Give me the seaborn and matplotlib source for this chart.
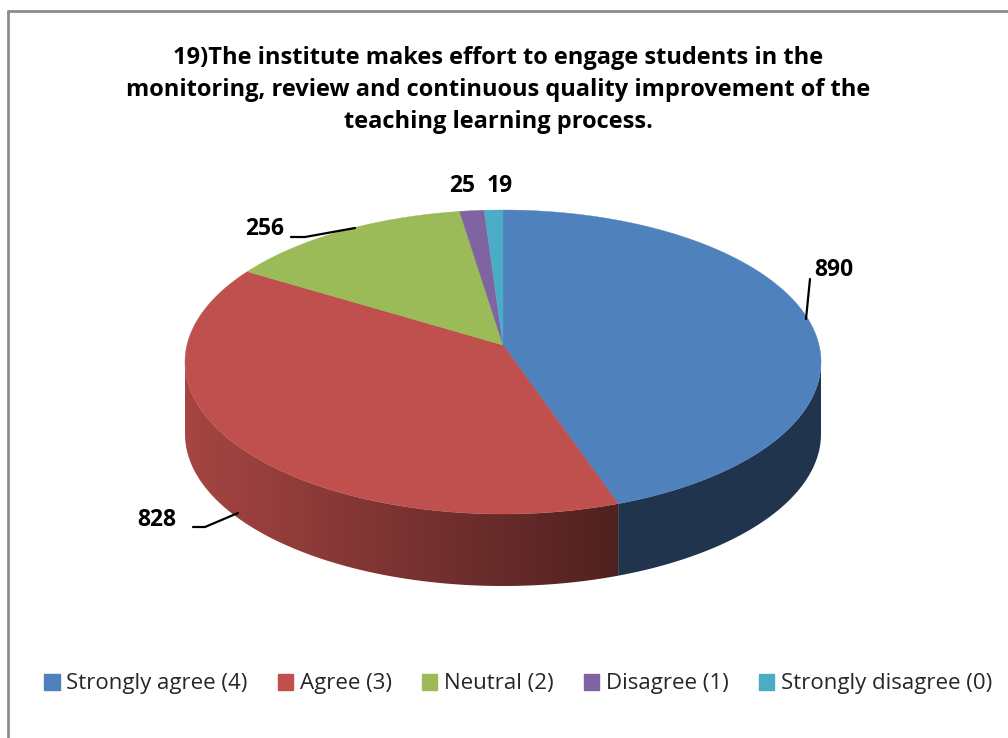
import numpy as np
import matplotlib
matplotlib.use("Agg")
import matplotlib.pyplot as plt
from matplotlib.patches import Polygon, Patch
import seaborn as sns

# data
labels = ["Strongly agree (4)", "Agree (3)", "Neutral (2)", "Disagree (1)", "Strongly disagree (0)"]
counts = [890, 828, 256, 25, 19]
colors = ["#4F81BD", "#C0504D", "#9BBB59", "#8064A2", "#4BACC6"]
title = ("19)The institute makes effort to engage students in the\n"
         "monitoring, review and continuous quality improvement of the\n"
         "teaching learning process.")

# layout (pixels): where the value labels sit and their leader lines
label_pos = [(834, 270), (157, 520), (265, 229), (462, 186), (500, 186)]
leaders = [[(810, 279), (806, 319)],
           [(193, 527), (205, 527), (238, 513)],
           [(291, 237), (305, 237), (355, 228)],
           None, None]

sns.set_theme(style="white")
plt.rcParams['font.family'] = ['Open Sans', 'DejaVu Sans']

fig = plt.figure(figsize=(10.08, 7.38), dpi=100)
ax = fig.add_axes([0, 0, 1, 1])

# pie geometry (ellipse seen in perspective)
cx, cy, rx, ry, depth = 503, 362, 318, 152, 72
apex = (503, 345)


def pt(t, dy=0.0):
    r = np.radians(t)
    return cx + rx * np.cos(r), cy - ry * np.sin(r) + dy


total = sum(counts)
ends = 90 - np.cumsum(counts) / total * 360
starts = np.r_[90, ends[:-1]]

# side walls (front half only), filled with a left-to-right gradient
xg = np.arange(0, 1008)
fac = np.clip(0.86 - 0.00105 * (xg - 190), 0.41, 1.0)
for i in range(len(counts)):
    ts = np.linspace(ends[i], starts[i], 400)
    front = ts[np.sin(np.radians(ts)) <= 0]
    if len(front) < 2:
        continue
    top = [pt(t) for t in front]
    bot = [pt(t, depth) for t in front[::-1]]
    poly = Polygon(top + bot, closed=True, facecolor='none', edgecolor='none')
    ax.add_patch(poly)
    rgb = np.array(matplotlib.colors.to_rgb(colors[i]))
    img = np.tile((fac[:, None] * rgb)[None, :, :], (2, 1, 1))
    im = ax.imshow(img, extent=(0, 1008, 738, 0), aspect='auto', interpolation='bilinear')
    im.set_clip_path(poly)

# top face wedges
for i in range(len(counts)):
    ts = np.linspace(starts[i], ends[i], 200)
    arc = [pt(t) for t in ts]
    ax.add_patch(Polygon([apex] + arc, closed=True, facecolor=colors[i],
                         edgecolor=colors[i], lw=0.3))

# value labels + leader lines
for i, v in enumerate(counts):
    x, y = label_pos[i]
    ax.text(x, y, str(v), fontsize=16.5, fontweight='bold', ha='center', va='center',
            color='black')
    if leaders[i] is not None:
        xs, ys = zip(*leaders[i])
        ax.plot(xs, ys, color='black', lw=1.6)

# title
ax.text(498, 90, title, fontsize=17, fontweight='bold', ha='center', va='center',
        linespacing=1.45, color='black')

# chart border (only top and left edges show)
ax.plot([8, 1008], [11, 11], color='#8c8c8c', lw=2)
ax.plot([8, 8], [11, 738], color='#8c8c8c', lw=2)
ax.set_xlim(0, 1008)
ax.set_ylim(738, 0)
ax.axis('off')

handles = [Patch(facecolor=c, edgecolor=c) for c in colors]
fig.legend(handles, labels, ncol=5, loc='center', bbox_to_anchor=(518 / 1008, 1 - 684 / 738),
           frameon=False, fontsize=16, handlelength=0.7, handleheight=0.7,
           handletextpad=0.3, columnspacing=1.35, borderpad=0)

fig.savefig("out.png", dpi=100)
